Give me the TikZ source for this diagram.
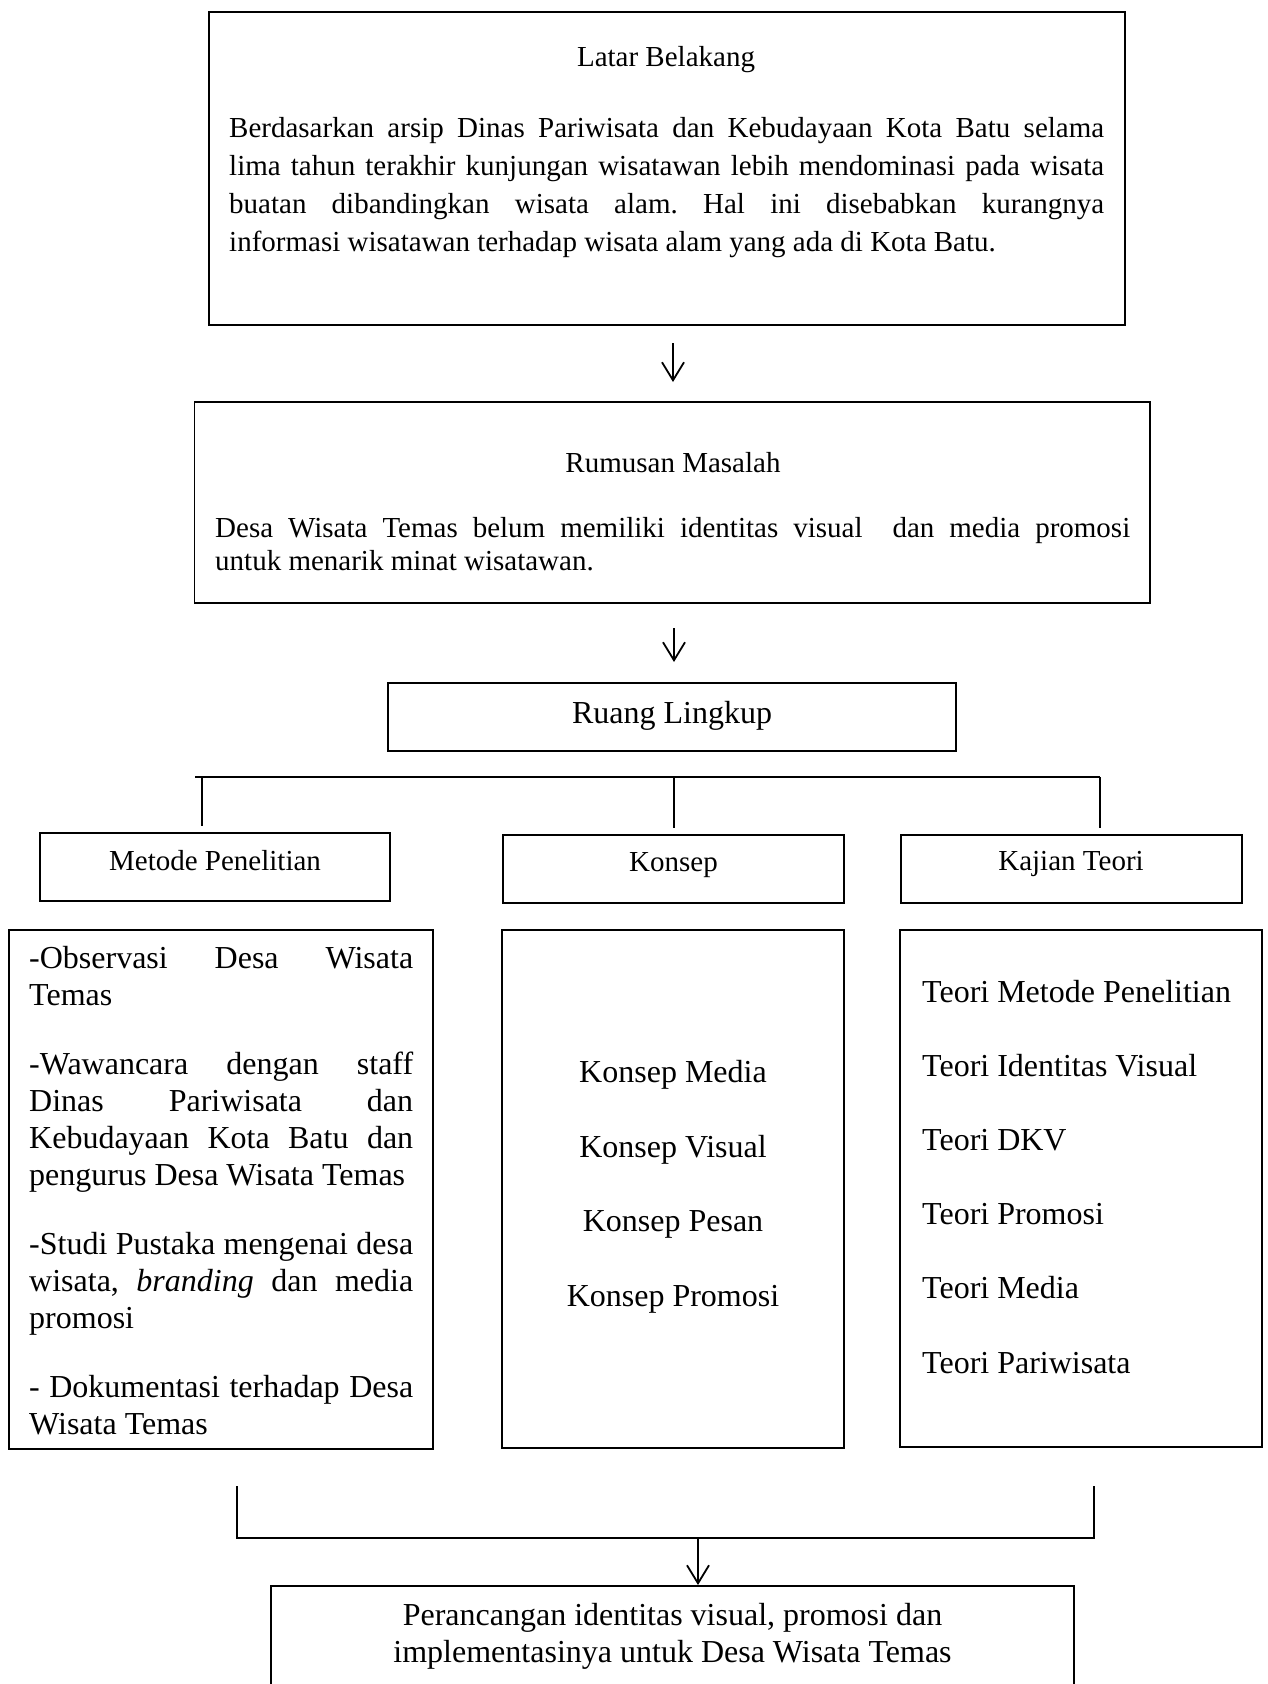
\documentclass[tikz,border=0pt]{standalone}
\usepackage{fontspec}
\setmainfont{Liberation Serif}
\usetikzlibrary{arrows.meta,calc}
\begin{document}
\begin{tikzpicture}[x=1pt,y=-1pt,
  box/.style={draw, line width=1.3pt, inner sep=0pt, outer sep=0pt},
  conn/.style={line width=2pt},
  arr/.style={line width=1.8pt, -{Straight Barb[length=18pt,width=22pt]}},
  fa/.style={inner sep=0pt, font=\fontsize{29}{38.3}\selectfont},
  fb/.style={inner sep=0pt, font=\fontsize{32}{37}\selectfont}]
\useasboundingbox[fill=white] (0,0) rectangle (1267,1684);
\hyphenpenalty=10000 \exhyphenpenalty=10000 \frenchspacing
% boxes
\node[box, minimum width=916pt, minimum height=313pt] (lb) at (667,168.5) {};
\node[box, minimum width=955.5pt, minimum height=201pt] (rm) at (672.25,502.5) {};
\node[box, minimum width=568pt, minimum height=68pt] (rl) at (672,717) {};
\node[box, minimum width=350pt, minimum height=68pt] (mp) at (215,867) {};
\node[box, minimum width=341pt, minimum height=68pt] (ks) at (673.5,869) {};
\node[box, minimum width=341pt, minimum height=68pt] (kt) at (1071.5,869) {};
\node[box, minimum width=424pt, minimum height=519pt] (mpb) at (221,1189.5) {};
\node[box, minimum width=342pt, minimum height=518pt] (ksb) at (673,1189) {};
\node[box, minimum width=362pt, minimum height=517pt] (ktb) at (1081,1188.5) {};
\node[box, minimum width=803pt, minimum height=124pt] (fin) at (672.5,1648) {};
% texts
\node[fa, anchor=base] (lbt) at (666,66) {Latar Belakang};
\node[fa, anchor=base west] (lbb) at (229,137) {\parbox[t]{875pt}{\fontsize{29}{38.3}\selectfont\frenchspacing
Berdasarkan arsip Dinas Pariwisata dan Kebudayaan Kota Batu selama\linebreak
lima tahun terakhir kunjungan wisatawan lebih mendominasi pada wisata\linebreak
buatan dibandingkan wisata alam. Hal ini disebabkan kurangnya\linebreak
informasi wisatawan terhadap wisata alam yang ada di Kota Batu.}};
\node[fa, anchor=base] (rmt) at (673,472) {Rumusan Masalah};
\node[fa, anchor=base west] (rmb) at (215,537) {\parbox[t]{915pt}{\fontsize{29}{33}\selectfont\frenchspacing
Desa Wisata Temas belum memiliki identitas visual \ dan media promosi\linebreak
untuk menarik minat wisatawan.}};
\node[fb, anchor=base] (rlt) at (672,723) {Ruang Lingkup};
\node[fa, anchor=base] (mpt) at (215,870) {Metode Penelitian};
\node[fa, anchor=base] (kst) at (673.5,871) {Konsep};
\node[fa, anchor=base] (ktt) at (1071,870) {Kajian Teori};
\node[fb, anchor=base west] (mpx) at (29,968) {\parbox[t]{384pt}{\fontsize{32}{37}\selectfont\frenchspacing
\setlength{\parskip}{32pt}\setlength{\parindent}{0pt}%
-Observasi Desa Wisata\linebreak Temas\par
-Wawancara dengan staff\linebreak Dinas Pariwisata dan\linebreak Kebudayaan Kota Batu dan\linebreak pengurus Desa Wisata Temas\par
-Studi Pustaka mengenai desa\linebreak wisata, \textit{branding} dan media\linebreak promosi\par
- Dokumentasi terhadap Desa\linebreak Wisata Temas}};
\node[fb, anchor=base] (k1) at (673,1082) {Konsep Media};
\node[fb, anchor=base] (k2) at (673,1157) {Konsep Visual};
\node[fb, anchor=base] (k3) at (673,1231) {Konsep Pesan};
\node[fb, anchor=base] (k4) at (673,1306) {Konsep Promosi};
\node[fb, anchor=base west] (t1) at (922,1002) {Teori Metode Penelitian};
\node[fb, anchor=base west] (t2) at (922,1076) {Teori Identitas Visual};
\node[fb, anchor=base west] (t3) at (922,1150) {Teori DKV};
\node[fb, anchor=base west] (t4) at (922,1224) {Teori Promosi};
\node[fb, anchor=base west] (t5) at (922,1298) {Teori Media};
\node[fb, anchor=base west] (t6) at (922,1373) {Teori Pariwisata};
\node[fb, anchor=base] (f1) at (672.5,1625) {Perancangan identitas visual, promosi dan};
\node[fb, anchor=base] (f2) at (672.5,1662) {implementasinya untuk Desa Wisata Temas};
% connectors
\draw[arr] ($(lb.south)+(6,18)$) -- ($(rm.north)+(0.75,-20)$);
\draw[arr] ($(rm.south)+(1.75,25)$) -- ($(rl.north)+(2,-21)$);
\coordinate (hl) at (195,777);
\coordinate (hr) at (1100,777);
\draw[conn] (hl) -- (hr);
\draw[conn] (202,777) -- ($(mp.north)+(-13,-7)$);
\draw[conn] (674,777) -- ($(ks.north)+(0.5,-7)$);
\draw[conn] (1100,777) -- ($(kt.north)+(28.5,-7)$);
\coordinate (bl) at (237,1486);
\coordinate (br) at (1094,1486);
\coordinate (jn) at (698,1538);
\draw[conn] (bl) -- (237,1538) -- (1094,1538) -- (br);
\draw[arr] (jn) -- ($(fin.north)+(25.5,-1)$);
\end{tikzpicture}
\end{document}
